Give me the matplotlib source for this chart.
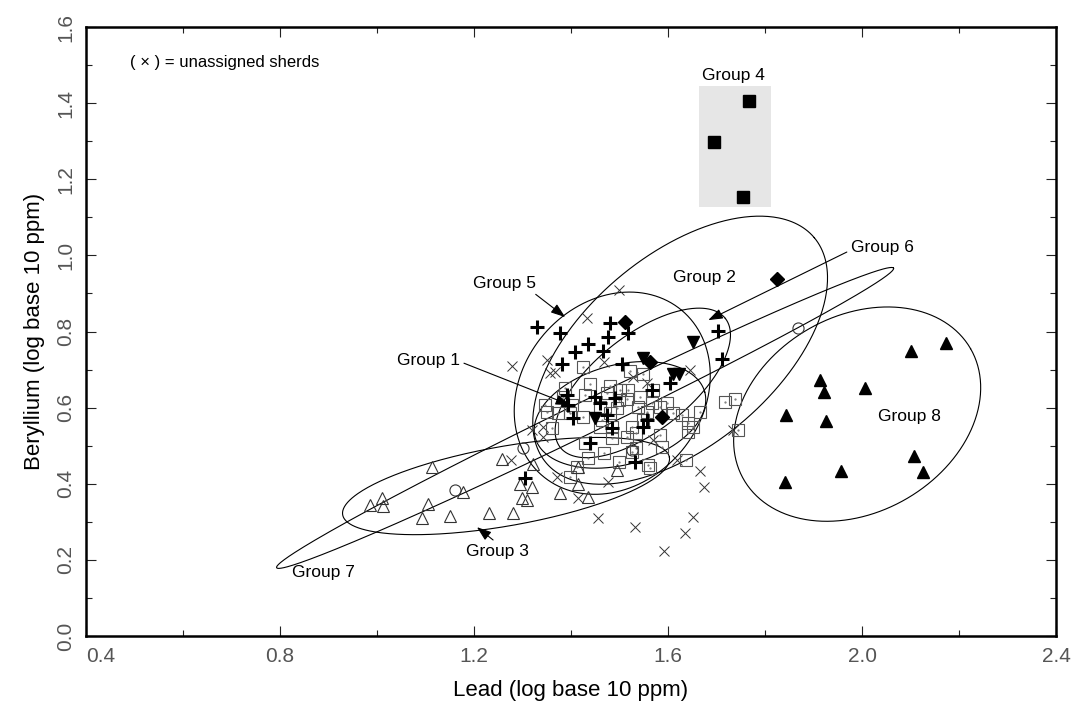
import numpy as np
import matplotlib.pyplot as plt

plt.rcParams['font.family'] = ['Liberation Sans', 'DejaVu Sans']

# %% data (log10 ppm)
g1_x = [1.425, 1.522, 1.549, 1.518, 1.480, 1.439, 1.429, 1.388, 1.384, 1.401,
        1.346, 1.350, 1.374, 1.398, 1.360, 1.425, 1.460, 1.498, 1.515, 1.542,
        1.566, 1.570, 1.597, 1.584, 1.611, 1.628, 1.666, 1.642, 1.652, 1.642,
        1.584, 1.535, 1.515, 1.484, 1.467, 1.429, 1.436, 1.498, 1.559, 1.563,
        1.587, 1.535, 1.525, 1.398, 1.638, 1.718, 1.738, 1.745, 1.525, 1.484,
        1.463, 1.480, 1.494, 1.549, 1.556, 1.539, 1.474, 1.501, 1.460, 1.412]
g1_y = [0.706, 0.697, 0.688, 0.646, 0.657, 0.662, 0.633, 0.651, 0.629, 0.607,
        0.607, 0.589, 0.585, 0.585, 0.546, 0.576, 0.603, 0.620, 0.624, 0.629,
        0.611, 0.646, 0.611, 0.603, 0.585, 0.581, 0.589, 0.559, 0.550, 0.537,
        0.528, 0.533, 0.524, 0.519, 0.480, 0.506, 0.467, 0.458, 0.449, 0.441,
        0.497, 0.493, 0.484, 0.419, 0.462, 0.616, 0.624, 0.541, 0.550, 0.550,
        0.568, 0.585, 0.598, 0.568, 0.589, 0.603, 0.638, 0.646, 0.550, 0.445]

g2_x = [1.825, 1.511, 1.563, 1.587]
g2_y = [0.938, 0.826, 0.721, 0.576]

g3_x = [0.986, 1.010, 1.012, 1.113, 1.105, 1.093, 1.151, 1.231, 1.280, 1.258,
        1.322, 1.295, 1.320, 1.299, 1.309, 1.177, 1.414, 1.377, 1.414, 1.435, 1.495]
g3_y = [0.344, 0.363, 0.342, 0.444, 0.347, 0.310, 0.315, 0.323, 0.323, 0.465,
        0.452, 0.399, 0.391, 0.363, 0.357, 0.378, 0.444, 0.376, 0.399, 0.365, 0.436]

g4_x = [1.768, 1.695, 1.755]
g4_y = [1.405, 1.299, 1.154]

g5_x = [1.329, 1.377, 1.480, 1.518, 1.477, 1.434, 1.408, 1.465, 1.381, 1.505,
        1.704, 1.711, 1.604, 1.566, 1.450, 1.391, 1.394, 1.405, 1.474, 1.484,
        1.549, 1.439, 1.532, 1.305, 1.460, 1.556, 1.491]
g5_y = [0.811, 0.795, 0.822, 0.795, 0.786, 0.767, 0.747, 0.750, 0.715, 0.716,
        0.802, 0.728, 0.664, 0.646, 0.629, 0.633, 0.607, 0.572, 0.581, 0.546,
        0.550, 0.506, 0.458, 0.414, 0.611, 0.568, 0.625]

g6_x = [1.652, 1.610, 1.623, 1.450, 1.549]
g6_y = [0.773, 0.688, 0.688, 0.572, 0.730]

g7_x = [1.161, 1.301, 1.868, 1.526]
g7_y = [0.384, 0.494, 0.809, 0.489]

g8_x = [2.173, 2.101, 1.913, 1.922, 2.006, 1.843, 1.926, 2.107, 1.957, 2.126, 1.841]
g8_y = [0.770, 0.749, 0.673, 0.641, 0.652, 0.581, 0.565, 0.473, 0.434, 0.431, 0.405]

unas_x = [1.278, 1.350, 1.276, 1.343, 1.319, 1.357, 1.343, 1.371, 1.498, 1.432,
          1.367, 1.467, 1.645, 1.556, 1.415, 1.477, 1.456, 1.532, 1.651, 1.666,
          1.674, 1.618, 1.570, 1.735, 1.592, 1.635, 1.528]
unas_y = [0.709, 0.725, 0.462, 0.550, 0.541, 0.690, 0.524, 0.419, 0.909, 0.835,
          0.694, 0.721, 0.699, 0.664, 0.362, 0.405, 0.309, 0.287, 0.312, 0.434,
          0.392, 0.462, 0.515, 0.541, 0.223, 0.271, 0.681]

# confidence ellipses: centre x, centre y, semi-axes (x units), screen angle
ell_names = ["Group 1", "Group 2", "Group 3", "Group 5", "Group 6", "Group 7", "Group 8"]
ell_cx = [1.501, 1.625, 1.266, 1.485, 1.548, 1.429, 1.990]
ell_cy = [0.581, 0.751, 0.394, 0.638, 0.665, 0.573, 0.583]
ell_a = [0.181, 0.361, 0.342, 0.223, 0.216, 0.707, 0.270]
ell_b = [0.103, 0.196, 0.082, 0.186, 0.099, 0.033, 0.202]
ell_ang = [15, 40, 10, 50, 38, 25.9, 30]

g4_box = [1.664, 1.812, 1.128, 1.445]

# %% figure
fig = plt.figure(figsize=(10.78, 7.13), dpi=100)
ax = fig.add_axes([0.0798, 0.108, 0.8998, 0.854])
ax.set_xlim(0.4, 2.4)
ax.set_ylim(0.0, 1.6)

pos = ax.get_position()
w_px = pos.width * fig.get_figwidth()
h_px = pos.height * fig.get_figheight()
yscale = (1.6 / h_px) / (2.0 / w_px)

t = np.linspace(0, 2 * np.pi, 400)
for cx, cy, a, b, ang in zip(ell_cx, ell_cy, ell_a, ell_b, ell_ang):
    ph = np.deg2rad(ang)
    ex = a * np.cos(t) * np.cos(ph) - b * np.sin(t) * np.sin(ph)
    ey = a * np.cos(t) * np.sin(ph) + b * np.sin(t) * np.cos(ph)
    ax.plot(cx + ex, cy + ey * yscale, color="black", lw=0.8, zorder=2)

ax.add_patch(plt.Rectangle((g4_box[0], g4_box[2]), g4_box[1] - g4_box[0],
                           g4_box[3] - g4_box[2], facecolor="#e6e6e6",
                           edgecolor="none", zorder=1))

ax.plot(unas_x, unas_y, "x", color="#333333", ms=7, mew=0.7, ls="none", zorder=3)
ax.plot(g1_x, g1_y, "s", mfc="none", mec="#555555", ms=8, mew=0.8, ls="none", zorder=3)
ax.plot(g1_x, g1_y, ".", color="#777777", ms=1.2, ls="none", zorder=3)
ax.plot(g3_x, g3_y, "^", mfc="none", mec="#333333", ms=9, mew=0.8, ls="none", zorder=3)
ax.plot(g7_x, g7_y, "o", mfc="none", mec="#333333", ms=8, mew=0.8, ls="none", zorder=3)
ax.plot(g5_x, g5_y, "+", color="black", ms=10, mew=2.2, ls="none", zorder=4)
ax.plot(g2_x, g2_y, "D", color="black", ms=7.5, ls="none", zorder=4)
ax.plot(g6_x, g6_y, "v", color="black", ms=9, ls="none", zorder=4)
ax.plot(g8_x, g8_y, "^", color="black", ms=9, ls="none", zorder=4)
ax.plot(g4_x, g4_y, "s", color="black", ms=8, ls="none", zorder=4)

# labels
lab_fs = 12.5
ax.text(0.491, 1.508, "( \u00d7 ) = unassigned sherds", fontsize=12, va="center", ha="left")
ax.text(1.734, 1.474, "Group 4", fontsize=lab_fs, ha="center", va="center")
ax.text(1.610, 0.941, "Group 2", fontsize=lab_fs, ha="left", va="center")
ax.text(0.825, 0.166, "Group 7", fontsize=lab_fs, ha="left", va="center")
ax.text(2.033, 0.578, "Group 8", fontsize=lab_fs, ha="left", va="center")

arrow = dict(arrowstyle="-|>,head_length=0.7,head_width=0.25", color="black",
             lw=0.8, shrinkA=1, shrinkB=0)
ax.annotate("Group 1", xy=(1.398, 0.607), xytext=(1.041, 0.723), fontsize=lab_fs,
            ha="left", va="center", arrowprops=dict(arrow, relpos=(1.0, 0.45)))
ax.annotate("Group 5", xy=(1.388, 0.838), xytext=(1.198, 0.927), fontsize=lab_fs,
            ha="left", va="center", arrowprops=dict(arrow, relpos=(0.92, 0.0)))
ax.annotate("Group 3", xy=(1.206, 0.286), xytext=(1.184, 0.223), fontsize=lab_fs,
            ha="left", va="center", arrowprops=dict(arrow, relpos=(0.5, 1.0)))
ax.annotate("Group 6", xy=(1.683, 0.830), xytext=(1.977, 1.022), fontsize=lab_fs,
            ha="left", va="center", arrowprops=dict(arrow, relpos=(0.0, 0.3)))

# axes styling
xt = [0.4, 0.8, 1.2, 1.6, 2.0, 2.4]
yt = [0.0, 0.2, 0.4, 0.6, 0.8, 1.0, 1.2, 1.4, 1.6]
ax.set_xticks(xt, [f"{v:.1f}" for v in xt])
ax.set_xticks(np.arange(0.6, 2.4, 0.4), minor=True)
ax.set_yticks(yt, [f"{v:.1f}" for v in yt])
ax.set_yticks(np.arange(0.1, 1.6, 0.2), minor=True)
ax.tick_params(which="both", direction="in", top=True, right=True, width=0.8,
               colors="#222222", labelcolor="#555555", labelsize=15, pad=8)
ax.tick_params(which="major", length=7)
ax.tick_params(which="minor", length=4.5)
ax.tick_params(axis="y", labelrotation=90)
for lab in ax.get_yticklabels():
    lab.set_verticalalignment("center")
ax.get_xticklabels()[0].set_horizontalalignment("left")
for sp in ax.spines.values():
    sp.set_linewidth(1.8)

ax.set_xlabel("Lead (log base 10 ppm)", fontsize=16, labelpad=10)
ax.set_ylabel("Beryllium (log base 10 ppm)", fontsize=16, labelpad=8)

fig.savefig("out.png", dpi=100)
